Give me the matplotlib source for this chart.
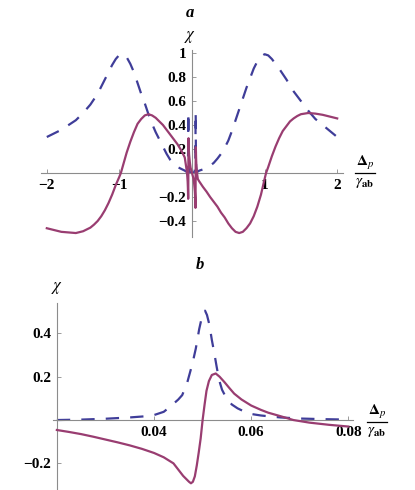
import numpy as np
import matplotlib
matplotlib.use("Agg")
import matplotlib.pyplot as plt
from matplotlib.lines import Line2D

plt.rcParams['mathtext.fontset'] = 'stix'
plt.rcParams['font.family'] = ['Liberation Serif', 'DejaVu Serif']

# cores padrao do Mathematica
AZUL = '#3f3d99'
VERMELHO = '#993d71'
CINZA = '#8c8c8c'

# --- painel a: faixa larga (parte imaginaria, tracejada) ---
a_im_x = [-2.0, -1.9, -1.8, -1.7, -1.6, -1.5, -1.4, -1.3, -1.2, -1.1, -1.05, -1.0, -0.95,
          -0.9, -0.85, -0.8, -0.75, -0.7, -0.65, -0.6, -0.55, -0.5, -0.45, -0.4, -0.35,
          -0.3, -0.25, -0.2, -0.15, -0.1, -0.08, -0.064, -0.057, -0.0534, -0.0524,
          -0.0514, -0.0505, -0.0493, -0.0479, -0.0458, -0.0427, -0.035, -0.02, 0.0,
          0.02, 0.035, 0.0427, 0.0458, 0.0479, 0.0493, 0.0505, 0.0514, 0.0524, 0.0534,
          0.057, 0.064, 0.08, 0.1, 0.15, 0.2, 0.25, 0.3, 0.35, 0.4, 0.45, 0.5, 0.55, 0.6,
          0.65, 0.7, 0.75, 0.8, 0.85, 0.9, 0.95, 1.0, 1.05, 1.1, 1.2, 1.3, 1.4, 1.5, 1.6,
          1.7, 1.8, 1.9, 2.0]
a_im_y = [0.30, 0.33, 0.36, 0.40, 0.44, 0.50, 0.57, 0.66, 0.78, 0.90, 0.95, 0.985, 0.99,
          0.965, 0.91, 0.84, 0.75, 0.66, 0.58, 0.49, 0.41, 0.34, 0.28, 0.22, 0.16,
          0.11, 0.075, 0.05, 0.035, 0.02, 0.012, 0.018, 0.05, 0.185, 0.31,
          0.446, 0.505, 0.43, 0.26, 0.115, 0.05, 0.012, 0.004, 0.0,
          0.004, 0.012, 0.05, 0.115, 0.26, 0.43, 0.505, 0.446, 0.31, 0.185,
          0.05, 0.018, 0.012, 0.02, 0.03, 0.04, 0.06, 0.085, 0.12, 0.16, 0.21, 0.27, 0.35, 0.44,
          0.53, 0.62, 0.71, 0.79, 0.87, 0.93, 0.97, 0.99, 0.98, 0.95, 0.87, 0.78, 0.68, 0.60, 0.52,
          0.45, 0.40, 0.35, 0.30]

# --- painel a: parte real (linha continua) ---
a_re_x = [-2.0, -1.9, -1.8, -1.7, -1.6, -1.5, -1.4, -1.35, -1.3, -1.25, -1.2, -1.15, -1.1,
          -1.05, -1.0, -0.98, -0.9, -0.85, -0.8, -0.75, -0.7, -0.65, -0.6, -0.55, -0.5,
          -0.45, -0.4, -0.35, -0.3, -0.25, -0.2, -0.15, -0.1, -0.08, -0.0687, -0.064,
          -0.06, -0.0564, -0.054, -0.0528, -0.052, -0.0515, -0.051, -0.0506, -0.0502,
          -0.0496, -0.0491, -0.0486, -0.0477, -0.0462, -0.0435, -0.04, -0.03, -0.02, 0.0,
          0.02, 0.03, 0.04, 0.0435, 0.0462, 0.0477, 0.0486, 0.0491, 0.0496, 0.0502, 0.0506,
          0.051, 0.0515, 0.052, 0.0528, 0.054, 0.0564, 0.06, 0.064, 0.0687, 0.08, 0.1,
          0.15, 0.2, 0.25, 0.3, 0.35, 0.4, 0.45, 0.5, 0.55, 0.6, 0.65, 0.7, 0.75, 0.8,
          0.85, 0.9, 0.95, 1.0, 1.02, 1.05, 1.1, 1.15, 1.2, 1.25, 1.3, 1.35, 1.4, 1.45,
          1.5, 1.55, 1.6, 1.7, 1.8, 1.9, 2.0]
a_re_y = [-0.46, -0.475, -0.49, -0.495, -0.50, -0.485, -0.455, -0.43, -0.40, -0.36, -0.31,
          -0.25, -0.18, -0.10, -0.03, 0.0, 0.17, 0.26, 0.34, 0.41, 0.45, 0.48, 0.49, 0.48,
          0.46, 0.43, 0.40, 0.36, 0.32, 0.28, 0.24, 0.19, 0.13, 0.05, 0.0, -0.035,
          -0.07, -0.125, -0.185, -0.215, -0.205, -0.185, -0.135, -0.07, 0.0,
          0.11, 0.2, 0.26, 0.29, 0.255, 0.195, 0.155, 0.09, 0.045, 0.0,
          -0.045, -0.09, -0.155, -0.2, -0.255, -0.29, -0.26, -0.2, -0.11, 0.0, 0.07,
          0.135, 0.185, 0.205, 0.215, 0.185, 0.125, 0.07, 0.035, 0.0, -0.05, -0.07,
          -0.115, -0.155, -0.2, -0.24, -0.28, -0.33, -0.37, -0.42, -0.46, -0.49, -0.50,
          -0.49, -0.46, -0.42, -0.36, -0.28, -0.18, -0.05, 0.0, 0.05, 0.14, 0.22, 0.29,
          0.35, 0.39, 0.43, 0.455, 0.475, 0.49, 0.495, 0.50, 0.495, 0.485, 0.47, 0.455]

# --- painel b: zoom na ressonancia estreita ---
b_im_x = [0.020, 0.025, 0.030, 0.035, 0.038, 0.040, 0.042, 0.0435, 0.045, 0.0458, 0.0468,
          0.0479, 0.0486, 0.0493, 0.0499, 0.0505, 0.0509, 0.0514, 0.0519, 0.0524, 0.0529,
          0.0534, 0.054, 0.0548, 0.056, 0.0572, 0.0585, 0.060, 0.062, 0.0633, 0.066,
          0.070, 0.075, 0.080]
b_im_y = [0.0, 0.002, 0.006, 0.012, 0.017, 0.023, 0.038, 0.065, 0.095, 0.115, 0.17,
          0.26, 0.33, 0.42, 0.48, 0.505, 0.485, 0.44, 0.37, 0.31, 0.245,
          0.185, 0.14, 0.105, 0.072, 0.054, 0.04, 0.028, 0.021, 0.018, 0.012,
          0.007, 0.004, 0.002]

b_re_x = [0.020, 0.0225, 0.025, 0.0275, 0.030, 0.0325, 0.035, 0.0375, 0.040, 0.042, 0.044,
          0.046, 0.0472, 0.0476, 0.048, 0.0484, 0.0488, 0.0492, 0.0496, 0.050, 0.0504,
          0.0508, 0.0513, 0.0519, 0.0527, 0.0535, 0.0545, 0.0555, 0.0565, 0.058, 0.060,
          0.062, 0.0635, 0.066, 0.0687, 0.072, 0.076, 0.080]
b_re_y = [-0.046, -0.055, -0.065, -0.077, -0.09, -0.103, -0.117, -0.133, -0.152, -0.172,
          -0.2, -0.258, -0.285, -0.292, -0.285, -0.26, -0.21, -0.15, -0.085, 0.0, 0.07,
          0.135, 0.18, 0.208, 0.215, 0.2, 0.175, 0.148, 0.122, 0.095, 0.067,
          0.047, 0.034, 0.018, 0.0, -0.012, -0.022, -0.03]

a_xticks = [-2, -1, 1, 2]
a_xlabels = ['\u22122', '\u22121', '1', '2']
a_yticks = [-0.4, -0.2, 0.2, 0.4, 0.6, 0.8, 1.0]
a_ylabels = ['\u22120.4', '\u22120.2', '0.2', '0.4', '0.6', '0.8', '1']
b_xticks = [0.04, 0.06, 0.08]
b_xlabels = ['0.04', '0.06', '0.08']
b_yticks = [-0.2, 0.2, 0.4]
b_ylabels = ['\u22120.2', '0.2', '0.4']

FONTE_TICK = {'family': 'Liberation Serif', 'weight': 'bold', 'size': 11}


def eixos_mathematica(ax, x0, y0):
    """Eixos cruzando no ponto (x0, y0), no estilo do Mathematica."""
    for lado in ['top', 'right']:
        ax.spines[lado].set_visible(False)
    ax.spines['left'].set_position(('data', x0))
    ax.spines['bottom'].set_position(('data', y0))
    for lado in ['left', 'bottom']:
        ax.spines[lado].set_color(CINZA)
        ax.spines[lado].set_linewidth(0.8)
    ax.tick_params(direction='in', length=3, width=0.6, color=CINZA, pad=4)
    ax.patch.set_visible(False)


def rotulo_fracao(fig, xc, yc):
    """Desenha Delta_p / gamma_ab como fracao (coordenadas em pixels)."""
    W, H = 415.0, 490.0
    fig.text(xc / W, 1 - (yc - 10) / H, r'$\mathbf{\Delta}_{p}$', fontsize=11,
             ha='center', va='center')
    fig.add_artist(Line2D([(xc - 10) / W, (xc + 10) / W], [1 - yc / H, 1 - yc / H],
                          color='black', lw=0.9, transform=fig.transFigure))
    fig.text(xc / W, 1 - (yc + 10) / H, r'$\gamma_{\mathbf{ab}}$', fontsize=11,
             ha='center', va='center')


fig = plt.figure(figsize=(4.15, 4.9), dpi=100)

# painel a
ax1 = fig.add_axes([41 / 415, 1 - 237 / 490, 302 / 415, 187 / 490])
ax1.plot(a_im_x, a_im_y, color=AZUL, lw=1.6, dashes=(6, 5), zorder=2)
ax1.plot(a_re_x, a_re_y, color=VERMELHO, lw=1.6, zorder=3)
ax1.set_xlim(-2.08, 2.08)
ax1.set_ylim(-0.533, 1.025)
eixos_mathematica(ax1, 0, 0)
ax1.set_xticks(a_xticks)
ax1.set_xticklabels(a_xlabels, fontdict=FONTE_TICK)
ax1.set_yticks(a_yticks)
ax1.set_yticklabels(a_ylabels, fontdict=FONTE_TICK)

# painel b
ax2 = fig.add_axes([52.7 / 415, 0.0, 300 / 415, 186.7 / 490])
ax2.plot(b_im_x, b_im_y, color=AZUL, lw=1.6, dashes=(6, 5), zorder=2)
ax2.plot(b_re_x, b_re_y, color=VERMELHO, lw=1.6, zorder=3)
ax2.set_xlim(0.01914, 0.0809)
ax2.set_ylim(-0.323, 0.539)
eixos_mathematica(ax2, 0.02, 0)
ax2.set_xticks(b_xticks)
ax2.set_xticklabels(b_xlabels, fontdict=FONTE_TICK)
ax2.set_yticks(b_yticks)
ax2.set_yticklabels(b_ylabels, fontdict=FONTE_TICK)

# titulos e rotulos
fig.text(190 / 415, 1 - 13 / 490, 'a', fontsize=12, fontweight='bold', style='italic',
         ha='center', va='center')
fig.text(190 / 415, 1 - 37 / 490, r'$\chi$', fontsize=12, ha='center', va='center')
fig.text(200 / 415, 1 - 265 / 490, 'b', fontsize=12, fontweight='bold', style='italic',
         ha='center', va='center')
fig.text(57 / 415, 1 - 288 / 490, r'$\chi$', fontsize=12, ha='center', va='center')
rotulo_fracao(fig, 365, 173)
rotulo_fracao(fig, 377, 421.5)

fig.savefig('out.png', dpi=100)
